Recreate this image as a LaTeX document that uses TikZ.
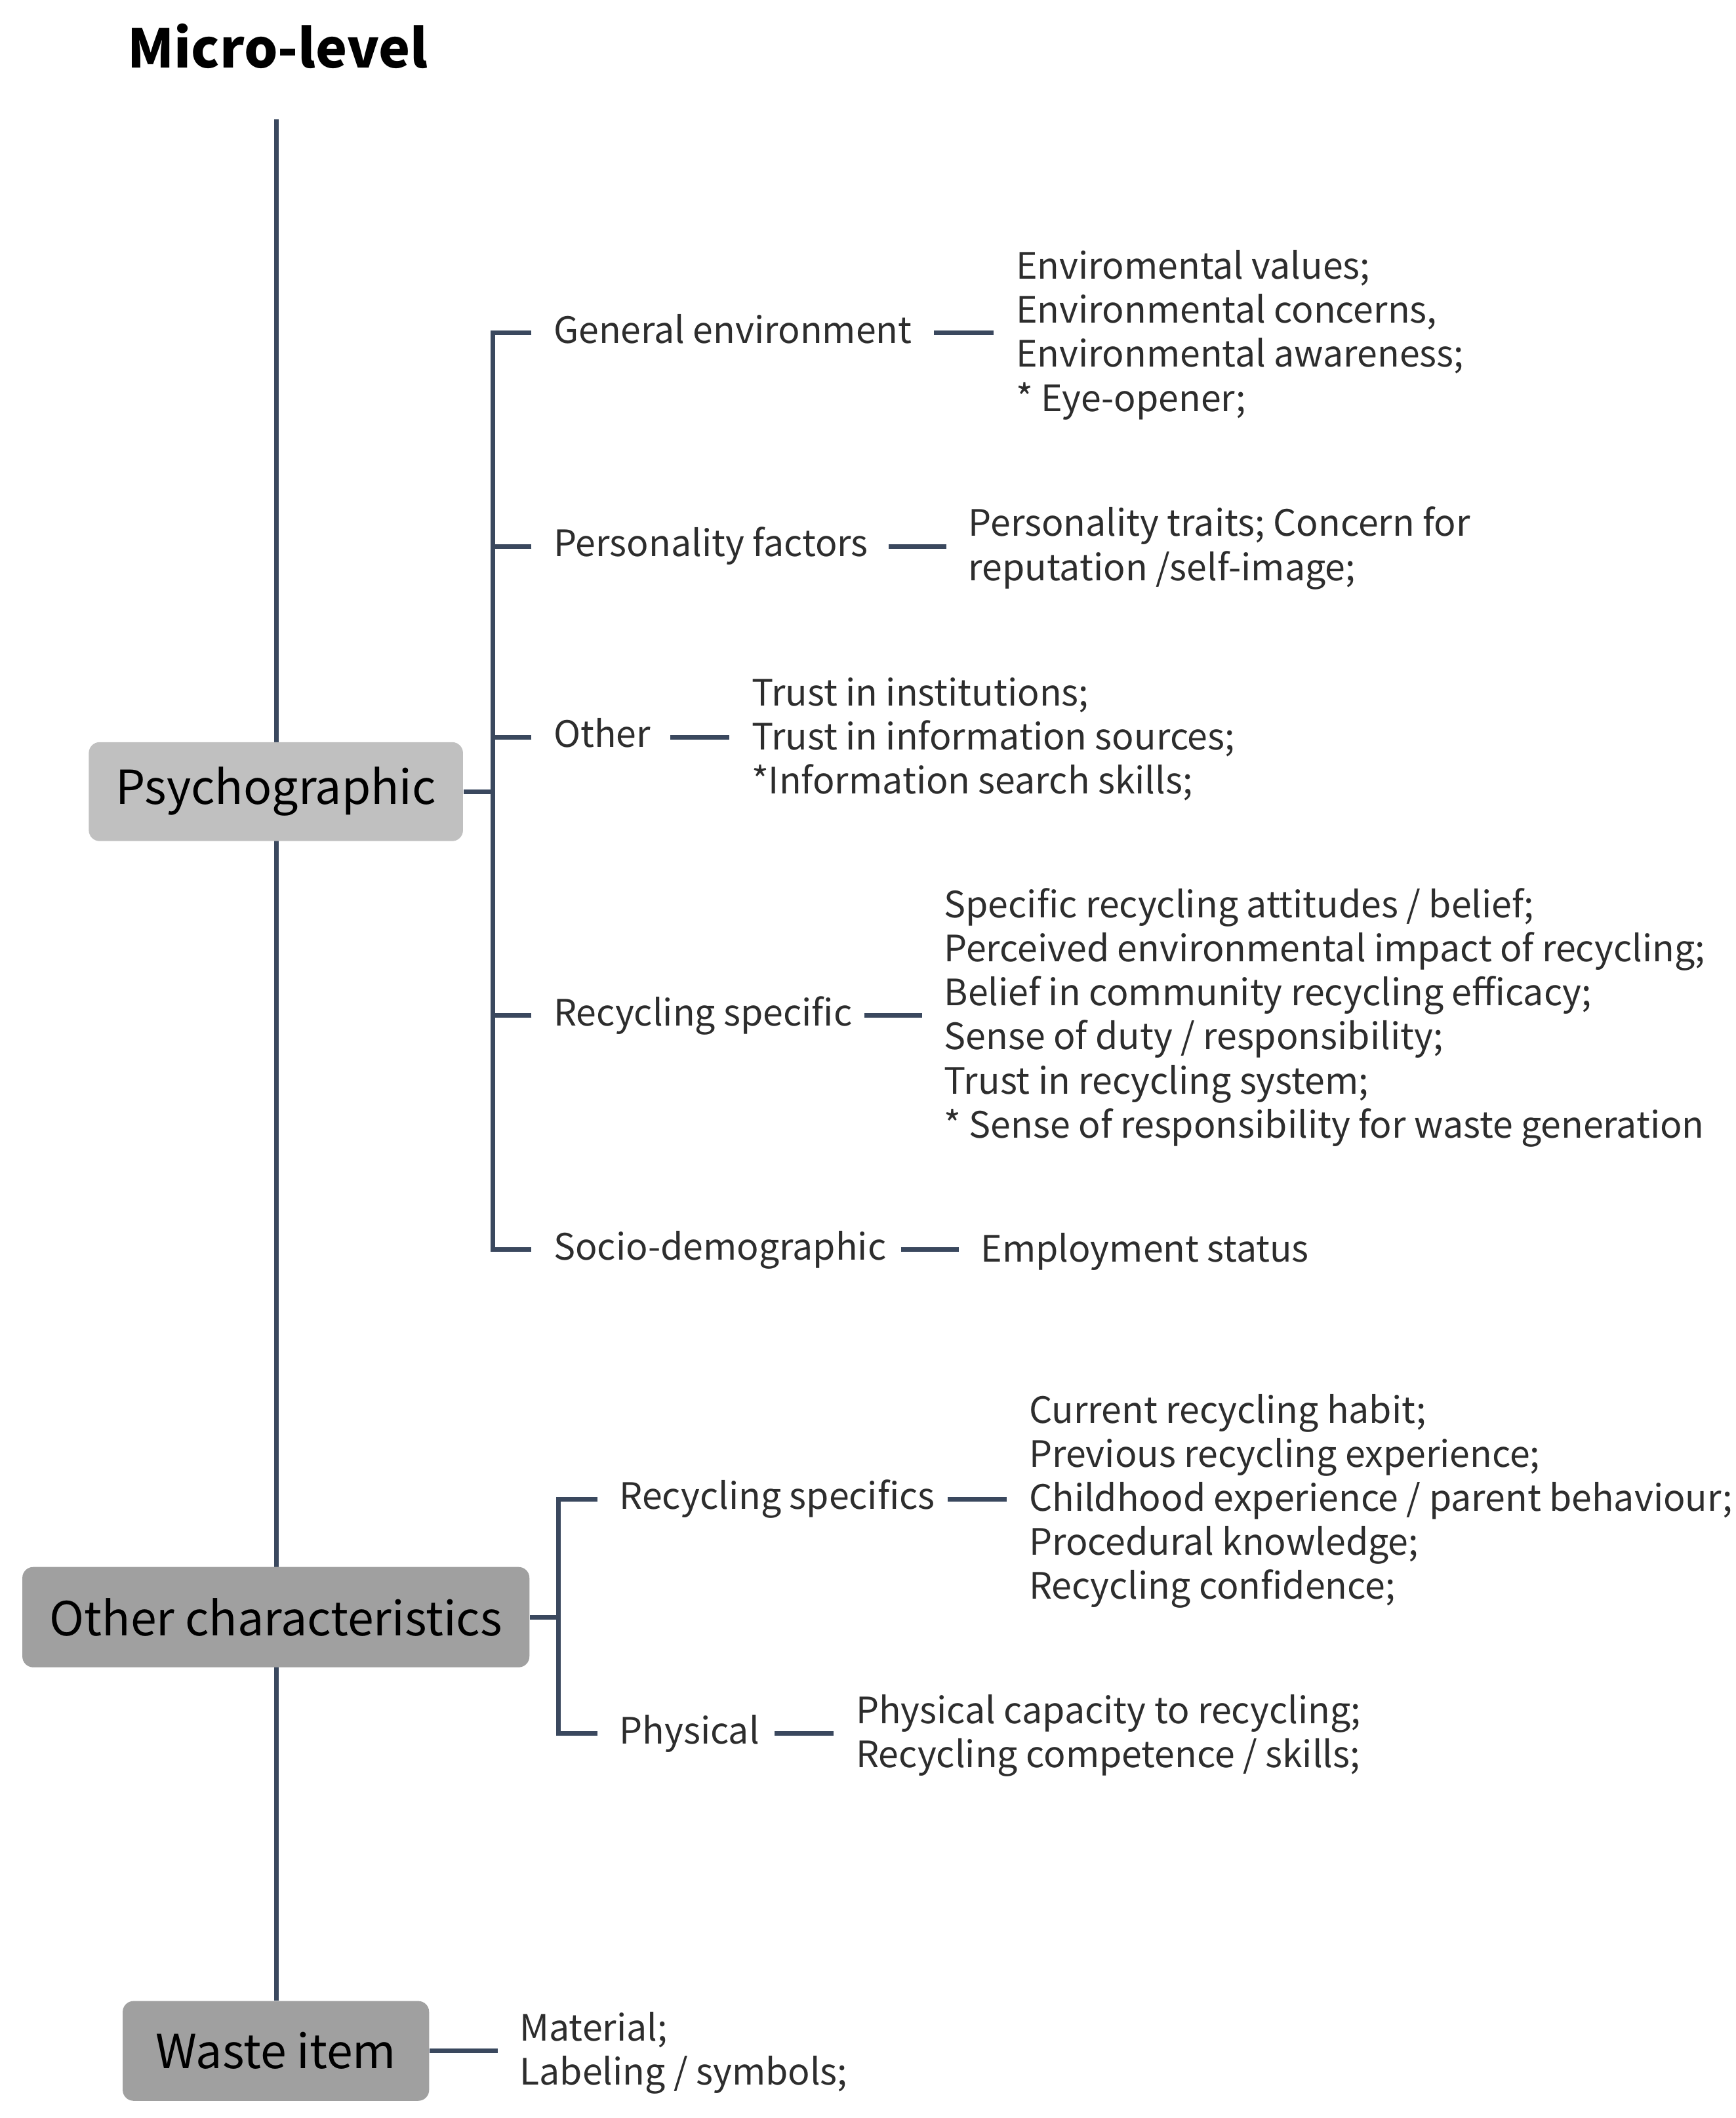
\documentclass[tikz,border=0pt]{standalone}
\usepackage{fontspec}
\setmainfont{Noto Sans CJK SC}
\usetikzlibrary{backgrounds}
\definecolor{linec}{RGB}{58,72,94}
\definecolor{txt}{RGB}{45,45,45}
\definecolor{boxlight}{RGB}{192,192,192}
\definecolor{boxdark}{RGB}{160,160,160}
\begin{document}
\begin{tikzpicture}[x=0.5pt,y=-0.5pt,
  conn/.style={line width=1.7pt, draw=linec},
  catbox/.style={rounded corners=4pt, inner sep=0pt, text=black,
    font=\fontsize{17.3}{20}\selectfont},
  sublab/.style={anchor=west, inner xsep=8pt, inner ysep=0pt, text=txt,
    text height=0.733em, text depth=0pt, font=\fontsize{13.4}{16.25}\selectfont},
  detail/.style={anchor=west, inner xsep=8pt, inner ysep=0pt, text=txt,
    align=left, font=\fontsize{13.4}{16.25}\selectfont, yshift=-0.7pt}]
\useasboundingbox (0,0) rectangle (1280,1562.5);

\node[font=\bfseries\fontsize{19.6}{24}\selectfont, text=black] (title) at (205,34) {Micro-level};

% category boxes
\node[catbox, fill=boxlight, minimum width=138pt, minimum height=36.5pt] (psy) at (203.5,584) {Psychographic};
\node[catbox, fill=boxdark, minimum width=187pt, minimum height=37pt] (oth) at (203.5,1193) {Other characteristics};
\node[catbox, fill=boxdark, minimum width=113pt, minimum height=36.8pt] (waste) at (203.5,1513) {Waste item};

\coordinate (top) at (204,88);
\begin{scope}[on background layer]
  \draw[conn] (top) -- (waste.north -| top);
\end{scope}

% Psychographic children
\node[sublab] (ge) at (392,245.7) {General environment};
\node[sublab] (pf) at (392,403) {Personality factors};
\node[sublab] (ot) at (392,544) {Other};
\node[sublab] (rs) at (392,749.3) {Recycling specific};
\node[sublab] (sd) at (392,922) {Socio-demographic};

\coordinate (pbr) at (363.5,584);
\draw[conn] (psy.east) -- (pbr);
\draw[conn] (ge.west) -- (ge.west -| pbr) -- (sd.west -| pbr) -- (sd.west);
\draw[conn] (pf.west) -- (pf.west -| pbr);
\draw[conn] (ot.west) -- (ot.west -| pbr);
\draw[conn] (rs.west) -- (rs.west -| pbr);

% dash starts
\coordinate (ge-s) at (689,245.7);
\coordinate (pf-s) at (655.5,403);
\coordinate (ot-s) at (494.5,544);
\coordinate (rs-s) at (637.5,749.3);
\coordinate (sd-s) at (664.5,922);

\node[detail] (ged) at (733,245.7) {Enviromental values;\\Environmental concerns,\\Environmental awareness;\\* Eye-opener;};
\node[detail] (pfd) at (698,403) {Personality traits; Concern for\\reputation /self-image;};
\node[detail] (otd) at (538,544) {Trust in institutions;\\Trust in information sources;\\*Information search skills;};
\node[detail] (rsd) at (680,749.3) {Specific recycling attitudes / belief;\\Perceived environmental impact of recycling;\\Belief in community recycling efficacy;\\Sense of duty / responsibility;\\Trust in recycling system;\\* Sense of responsibility for waste generation};
\node[detail] (sdd) at (707,922) {Employment status};

\draw[conn] (ge-s) -- (ge-s -| ged.west);
\draw[conn] (pf-s) -- (pf-s -| pfd.west);
\draw[conn] (ot-s) -- (ot-s -| otd.west);
\draw[conn] (rs-s) -- (rs-s -| rsd.west);
\draw[conn] (sd-s) -- (sd-s -| sdd.west);

% Other characteristics children
\node[sublab] (rcs) at (440.5,1106) {Recycling specifics};
\node[sublab] (phy) at (440.5,1279) {Physical};
\coordinate (obr) at (412,1193);
\draw[conn] (oth.east) -- (obr);
\draw[conn] (rcs.west) -- (rcs.west -| obr) -- (phy.west -| obr) -- (phy.west);

\coordinate (rcs-s) at (699,1106);
\coordinate (phy-s) at (571.5,1279);
\node[detail] (rcsd) at (742.6,1106) {Current recycling habit;\\Previous recycling experience;\\Childhood experience / parent behaviour;\\Procedural knowledge;\\Recycling confidence;};
\node[detail] (phyd) at (615,1279) {Physical capacity to recycling;\\Recycling competence / skills;};
\draw[conn] (rcs-s) -- (rcs-s -| rcsd.west);
\draw[conn] (phy-s) -- (phy-s -| phyd.west);

% Waste item
\node[detail] (wd) at (367,1513) {Material;\\Labeling / symbols;};
\draw[conn] (waste.east) -- (waste.east -| wd.west);
\end{tikzpicture}
\end{document}
